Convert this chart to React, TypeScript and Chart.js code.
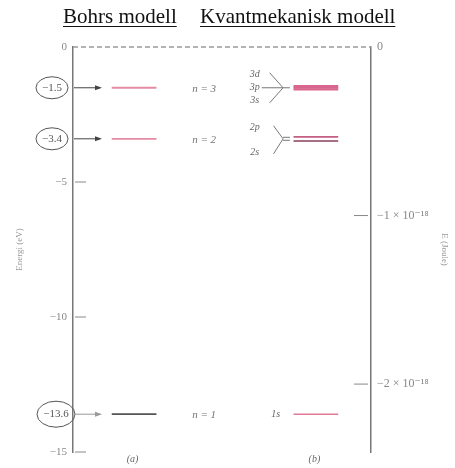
import React, { useEffect, useRef } from "react";
import { Chart, registerables } from "chart.js";

Chart.register(...registerables);

// ---- data ----
const EV_TO_J = 1.602e-19;
const bohrLevels = [-13.6, -3.4, -1.51];
const bohrLabels = ["n = 1", "n = 2", "n = 3"];
const bohrCircled = ["−13.6", "−3.4", "−1.5"];
const quantumLevels = [-13.6, -3.48, -3.33, -1.57, -1.51, -1.45];
const quantumLabels = ["1s", "2s", "2p", "3s", "3p", "3d"];
const leftTicks = [0, -5, -10, -15];
const rightTicks = [0, -1e-18, -2e-18];
const rightTickLabels = ["0", "−1 × 10⁻¹⁸", "−2 × 10⁻¹⁸"];
const leftTickLabels = ["0", "−5", "−10", "−15"];
const modelTitles = ["Bohrs modell", "Kvantmekanisk modell"];
const panelLabels = ["(a)", "(b)"];

// ---- layout / style ----
const BOHR_X = [13, 28];
const QUANT_X = [74, 89];
const bohrColors = ["#555555", "#e58ba3", "#e58ba3"];
const quantColors = ["#e07a98", "#8a3f5e", "#c45f82", "#d9668e", "#d9668e", "#d9668e"];
const SERIF = "'Liberation Serif', 'DejaVu Serif', serif";

const overlay = {
  id: "overlay",
  afterDraw(chart: any) {
    const ctx = chart.ctx as CanvasRenderingContext2D;
    const x = chart.scales.x;
    const y = chart.scales.y;
    const { left, right, bottom } = chart.chartArea;
    ctx.save();

    // title
    ctx.fillStyle = "#111";
    ctx.strokeStyle = "#111";
    ctx.font = `21px ${SERIF}`;
    ctx.textBaseline = "alphabetic";
    ctx.textAlign = "left";
    const titleX = [63, 200];
    modelTitles.forEach((t, i) => {
      ctx.fillText(t, titleX[i], 23);
      const w = ctx.measureText(t).width;
      ctx.lineWidth = 1;
      ctx.beginPath();
      ctx.moveTo(titleX[i], 26.5);
      ctx.lineTo(titleX[i] + w, 26.5);
      ctx.stroke();
    });

    // zero dashed line
    const y0 = y.getPixelForValue(0);
    ctx.strokeStyle = "#9a9a9a";
    ctx.lineWidth = 1.5;
    ctx.setLineDash([5, 3]);
    ctx.beginPath();
    ctx.moveTo(left, y0);
    ctx.lineTo(right, y0);
    ctx.stroke();
    ctx.setLineDash([]);

    // inward ticks, left
    ctx.strokeStyle = "#888";
    ctx.lineWidth = 1;
    leftTicks.forEach((v) => {
      if (v === 0) return;
      const py = y.getPixelForValue(v);
      ctx.beginPath();
      ctx.moveTo(left + 2, py);
      ctx.lineTo(left + 13, py);
      ctx.stroke();
    });
    // inward ticks, right
    const y2 = chart.scales.y2;
    rightTicks.forEach((v) => {
      if (v === 0) return;
      const py = y2.getPixelForValue(v);
      ctx.beginPath();
      ctx.moveTo(right - 17, py);
      ctx.lineTo(right - 3, py);
      ctx.stroke();
    });

    // circled values + arrows
    bohrLevels.forEach((v, i) => {
      const py = y.getPixelForValue(v);
      const big = bohrCircled[i].length > 4;
      const cx = big ? 56 : 52;
      ctx.strokeStyle = "#555";
      ctx.lineWidth = 1;
      ctx.beginPath();
      ctx.ellipse(cx, py, big ? 19 : 16, big ? 13 : 11, 0, 0, Math.PI * 2);
      ctx.stroke();
      ctx.fillStyle = "#555";
      ctx.font = `11px ${SERIF}`;
      ctx.textAlign = "center";
      ctx.textBaseline = "middle";
      ctx.fillText(bohrCircled[i], cx, py);
      // arrow
      ctx.strokeStyle = big ? "#999" : "#444";
      ctx.beginPath();
      ctx.moveTo(left + 1, py);
      ctx.lineTo(left + 27, py);
      ctx.stroke();
      ctx.fillStyle = big ? "#999" : "#444";
      ctx.beginPath();
      ctx.moveTo(left + 29, py);
      ctx.lineTo(left + 22, py - 2.5);
      ctx.lineTo(left + 22, py + 2.5);
      ctx.closePath();
      ctx.fill();
      // n labels
      ctx.fillStyle = "#777";
      ctx.font = `italic 11px ${SERIF}`;
      ctx.fillText(bohrLabels[i], x.getPixelForValue(44), py + 1);
    });

    // quantum labels
    ctx.fillStyle = "#666";
    ctx.font = `italic 10px ${SERIF}`;
    ctx.textAlign = "center";
    ctx.textBaseline = "middle";
    const lx = x.getPixelForValue(61);
    const y1 = y.getPixelForValue(quantumLevels[0]);
    ctx.fillText(quantumLabels[0], x.getPixelForValue(68), y1);
    const yn2 = y.getPixelForValue(-3.4);
    ctx.fillText(quantumLabels[2], lx, yn2 - 11);
    ctx.fillText(quantumLabels[1], lx, yn2 + 14);
    const yn3 = y.getPixelForValue(quantumLevels[4]);
    ctx.fillText(quantumLabels[5], lx, yn3 - 13);
    ctx.fillText(quantumLabels[4], lx, yn3);
    ctx.fillText(quantumLabels[3], lx, yn3 + 13);

    // braces
    ctx.strokeStyle = "#777";
    ctx.lineWidth = 1;
    const bx0 = x.getPixelForValue(66);
    const bx1 = x.getPixelForValue(70.5);
    ctx.beginPath();
    ctx.moveTo(bx0, yn3 - 15);
    ctx.lineTo(bx1, yn3);
    ctx.lineTo(bx0, yn3 + 15);
    ctx.moveTo(lx + 7, yn3);
    ctx.lineTo(x.getPixelForValue(72.8), yn3);
    ctx.stroke();
    const cx0 = x.getPixelForValue(67.3);
    ctx.beginPath();
    ctx.moveTo(cx0, yn2 - 13);
    ctx.lineTo(bx1, yn2);
    ctx.lineTo(cx0, yn2 + 15);
    ctx.moveTo(bx1, yn2 - 1.5);
    ctx.lineTo(x.getPixelForValue(72.8), yn2 - 1.5);
    ctx.moveTo(bx1, yn2 + 1.5);
    ctx.lineTo(x.getPixelForValue(72.8), yn2 + 1.5);
    ctx.stroke();

    // panel labels
    ctx.fillStyle = "#666";
    ctx.font = `italic 10px ${SERIF}`;
    ctx.fillText(panelLabels[0], x.getPixelForValue(20), bottom + 7);
    ctx.fillText(panelLabels[1], x.getPixelForValue(81), bottom + 7);

    ctx.restore();
  },
};

export default function App() {
  const ref = useRef<HTMLCanvasElement>(null);
  useEffect(() => {
    if (!ref.current) return;
    const datasets: any[] = [];
    bohrLevels.forEach((v, i) => {
      datasets.push({
        label: bohrLabels[i],
        data: [
          { x: BOHR_X[0], y: v },
          { x: BOHR_X[1], y: v },
        ],
        showLine: true,
        borderColor: bohrColors[i],
        borderWidth: 1.8,
        pointRadius: 0,
      });
    });
    quantumLevels.forEach((v, i) => {
      datasets.push({
        label: quantumLabels[i],
        data: [
          { x: QUANT_X[0], y: v },
          { x: QUANT_X[1], y: v },
        ],
        showLine: true,
        borderColor: quantColors[i],
        borderWidth: i >= 3 ? 2.2 : 1.6,
        pointRadius: 0,
      });
    });
    const chart = new Chart(ref.current, {
      type: "scatter",
      data: { datasets },
      plugins: [overlay],
      options: {
        animation: false,
        responsive: false,
        layout: { padding: { top: 47, bottom: 16, left: 0, right: 0 } },
        plugins: { legend: { display: false }, tooltip: { enabled: false }, title: { display: false } },
        scales: {
          x: { type: "linear", min: 0, max: 100, display: false },
          y: {
            type: "linear",
            position: "left",
            min: -15,
            max: 0,
            afterBuildTicks: (s: any) => {
              s.ticks = leftTicks.map((v) => ({ value: v }));
            },
            afterFit: (s: any) => {
              s.width = 73;
            },
            grid: { display: false, drawTicks: false },
            border: { display: true, color: "#777", width: 1.5 },
            ticks: {
              color: "#888",
              padding: 6,
              font: { family: SERIF, size: 11 },
              callback: (v: any) => leftTickLabels[leftTicks.indexOf(Number(v))] ?? "",
            },
            title: {
              display: true,
              text: "Energi (eV)",
              color: "#999",
              font: { family: SERIF, size: 9 },
              padding: { top: 14, bottom: 0 },
            },
          },
          y2: {
            type: "linear",
            position: "right",
            min: -15 * EV_TO_J,
            max: 0,
            afterBuildTicks: (s: any) => {
              s.ticks = rightTicks.map((v) => ({ value: v }));
            },
            afterFit: (s: any) => {
              s.width = 84;
            },
            grid: { display: false, drawTicks: false },
            border: { display: true, color: "#777", width: 1.5 },
            ticks: {
              color: "#888",
              padding: 6,
              font: { family: SERIF, size: 12 },
              callback: (v: any) => {
                const idx = rightTicks.findIndex((t) => Math.abs(t - Number(v)) < 1e-22);
                return idx >= 0 ? rightTickLabels[idx] : "";
              },
            },
            title: {
              display: true,
              text: "E (Joule)",
              color: "#999",
              font: { family: SERIF, size: 9 },
              padding: { top: 5, bottom: 0 },
            },
          },
        },
      },
    });
    return () => chart.destroy();
  }, []);
  return (
    <div style={{ position: "fixed", left: 0, top: 0, width: 455, height: 468, background: "#fff" }}>
      <canvas ref={ref} width={455} height={468} />
    </div>
  );
}
